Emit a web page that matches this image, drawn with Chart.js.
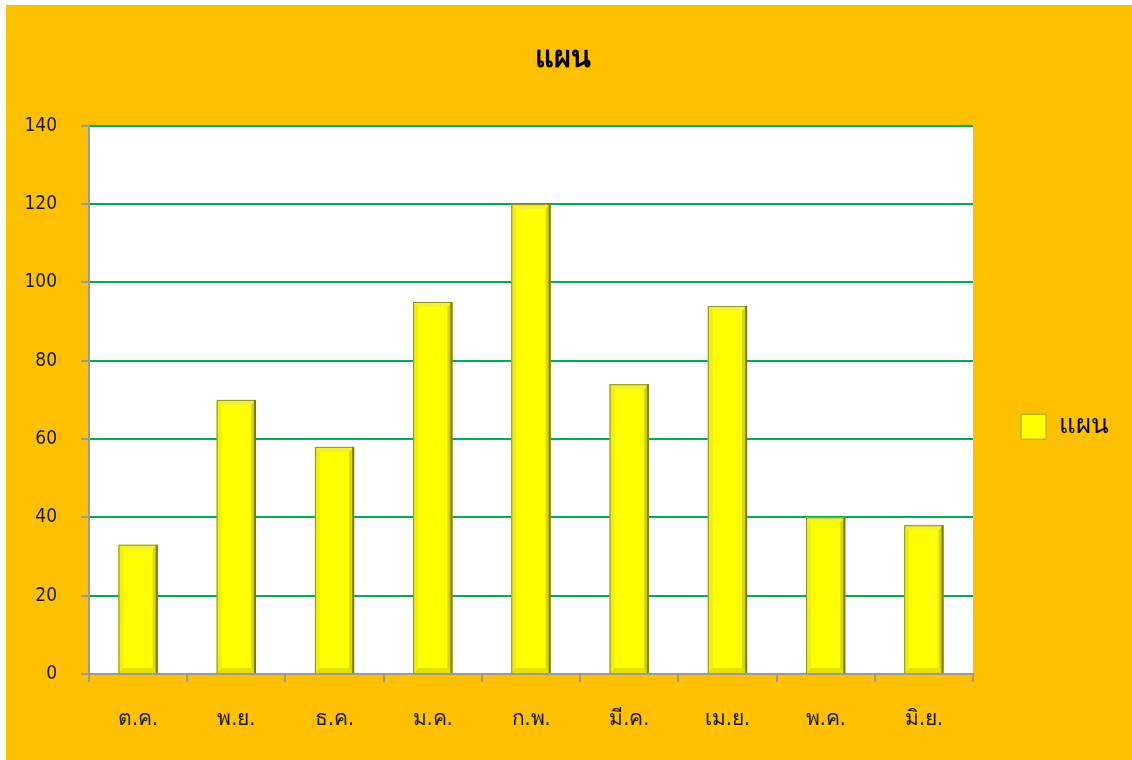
<!DOCTYPE html>
<html>
<head>
<meta charset="utf-8">
<script src="https://cdn.jsdelivr.net/npm/chart.js@4.4.0/dist/chart.umd.min.js"></script>
<style>
  html, body { margin: 0; padding: 0; background: #fff; }
  #wrap { position: absolute; left: 6px; top: 5px; width: 1126px; height: 755px; background: #FFC000; }
</style>
</head>
<body>
<div id="wrap"><canvas id="chart"></canvas></div>
<script>
const months = ["ต.ค.", "พ.ย.", "ธ.ค.", "ม.ค.", "ก.พ.", "มี.ค.", "เม.ย.", "พ.ค.", "มิ.ย."];
const planValues = [33, 70, 58, 95, 120, 74, 94, 40, 38];
const seriesName = "แผน";
const yMin = 0;
const yMax = 140;
const yStep = 20;

const FONT = "'Liberation Sans Narrow', 'DejaVu Sans Condensed', 'Noto Sans', sans-serif";

// white plot area
const plotBg = {
  id: "plotBg",
  beforeDraw(chart) {
    const a = chart.chartArea;
    const c = chart.ctx;
    c.save();
    c.fillStyle = "#ffffff";
    c.fillRect(a.left, a.top, a.right - a.left, a.bottom - a.top);
    c.restore();
  }
};

// soft shadow under bars, then the bevel on top
const barShadow = {
  id: "barShadow",
  beforeDatasetsDraw(chart) {
    const c = chart.ctx;
    c.save();
    c.shadowColor = "rgba(0,0,0,0.35)";
    c.shadowBlur = 6;
    c.shadowOffsetX = 0;
    c.shadowOffsetY = 1;
  },
  afterDatasetsDraw(chart) {
    chart.ctx.restore();
    drawBevels(chart);
  }
};

function drawBevels(chart) {
  const c = chart.ctx;
  const meta = chart.getDatasetMeta(0);
  const b = 5;
  meta.data.forEach(bar => {
    const p = bar.getProps(["x", "y", "base", "width"], true);
    const l = p.x - p.width / 2, r = p.x + p.width / 2, t = p.y, bt = p.base;
    const quad = (pts, col) => {
      c.beginPath();
      c.moveTo(pts[0][0], pts[0][1]);
      for (let i = 1; i < pts.length; i++) c.lineTo(pts[i][0], pts[i][1]);
      c.closePath();
      c.fillStyle = col;
      c.fill();
    };
    c.save();
    quad([[l, t], [r, t], [r - b, t + b], [l + b, t + b]], "#f2f235");
    quad([[l, bt], [r, bt], [r - b, bt - b], [l + b, bt - b]], "#e2e200");
    quad([[l, t], [l + b, t + b], [l + b, bt - b], [l, bt]], "#eeee10");
    quad([[r, t], [r - b, t + b], [r - b, bt - b], [r, bt]], "#d6d600");
    c.strokeStyle = "#8f8f2a";
    c.lineWidth = 1;
    c.beginPath();
    c.moveTo(l + 0.5, bt);
    c.lineTo(l + 0.5, t + 0.5);
    c.lineTo(r - 0.5, t + 0.5);
    c.stroke();
    c.strokeStyle = "#7a7a10";
    c.lineWidth = 2;
    c.beginPath();
    c.moveTo(r - 1, t);
    c.lineTo(r - 1, bt);
    c.stroke();
    c.restore();
  });
}

new Chart(document.getElementById("chart"), {
  type: "bar",
  data: {
    labels: months,
    datasets: [{
      label: seriesName,
      data: planValues,
      backgroundColor: "#FFFF00",
      borderColor: "#a3a320",
      borderWidth: 1,
      barPercentage: 0.4,
      categoryPercentage: 1
    }]
  },
  options: {
    responsive: true,
    maintainAspectRatio: false,
    animation: false,
    layout: { padding: { left: 0, right: 13, top: 0, bottom: 34 } },
    scales: {
      x: {
        grid: { display: true, drawOnChartArea: false, drawTicks: true, tickLength: 8, color: "#9a9a9a", lineWidth: 2, offset: true },
        border: { color: "#9a9a9a", width: 2 },
        ticks: { color: "#1a1a1a", font: { family: FONT, size: 21 }, padding: 25, maxRotation: 0 },
        afterFit(s) { s.height = 52; }
      },
      y: {
        min: yMin,
        max: yMax,
        ticks: { stepSize: yStep, color: "#1a1a1a", font: { family: FONT, size: 19 }, padding: 24 },
        grid: { color: "#00B050", lineWidth: 2, tickColor: "#9a9a9a", tickLength: 8 },
        border: { color: "#9a9a9a", width: 2 },
        afterFit(s) { s.width = 83; }
      }
    },
    plugins: {
      title: {
        display: true,
        text: seriesName,
        color: "#000",
        font: { family: FONT, size: 29, weight: "bold" },
        padding: { top: 37, bottom: 49 }
      },
      legend: {
        position: "right",
        title: { display: true, text: " ", padding: 54 },
        labels: {
          boxWidth: 25,
          boxHeight: 25,
          padding: 48,
          color: "#000",
          font: { family: FONT, size: 26 }
        }
      },
      tooltip: { enabled: false }
    }
  },
  plugins: [plotBg, barShadow]
});
</script>
</body>
</html>
